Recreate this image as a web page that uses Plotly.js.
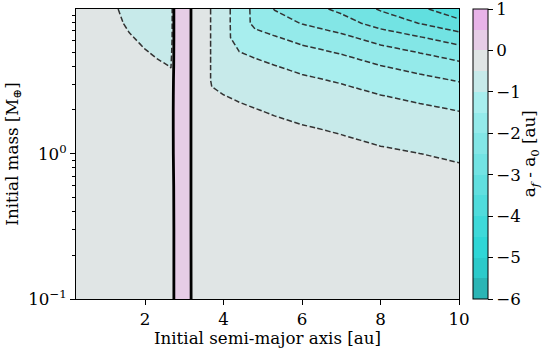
<!DOCTYPE html>
<html>
<head>
<meta charset="utf-8">
<script src="https://cdn.plot.ly/plotly-3.0.1.min.js"></script>
<style>html,body{margin:0;padding:0;background:#fff;}#chart{width:542px;height:348px;}</style>
</head>
<body>
<div id="chart"></div>
<script>
// Initial semi-major axis samples [au]
const semiMajorAxis = [0.24, 1.0, 1.3, 1.6, 2.0, 2.3, 2.6, 2.66, 2.715, 2.76, 2.95, 3.14, 3.2, 3.45, 3.7, 4.0, 4.4, 4.8, 5.3, 6.0, 7.0, 8.0, 9.0, 10.0];
// Initial mass samples [M_earth]
const initialMass = [0.1, 0.3, 0.6, 1.0, 1.5, 2.0, 2.5, 3.2, 4.0, 5.0, 6.3, 7.9, 9.9];
// a_f - a_0 [au], one list per semi-major-axis sample (low mass -> high mass)
const deltaA_byAxis = [
  [-0.002, -0.005, -0.008, -0.013, -0.019, -0.024, -0.029, -0.036, -0.043, -0.053, -0.064, -0.079, -0.089],
  [-0.008, -0.020, -0.036, -0.056, -0.080, -0.102, -0.124, -0.154, -0.187, -0.227, -0.278, -0.339, -0.384],
  [-0.010, -0.025, -0.046, -0.072, -0.102, -0.132, -0.160, -0.198, -0.240, -0.292, -0.357, -0.436, -0.493],
  [-0.013, -0.033, -0.060, -0.094, -0.134, -0.172, -0.208, -0.259, -0.314, -0.381, -0.466, -0.569, -0.644],
  [-0.016, -0.041, -0.076, -0.118, -0.168, -0.216, -0.262, -0.325, -0.394, -0.479, -0.585, -0.714, -0.808],
  [-0.018, -0.047, -0.086, -0.134, -0.191, -0.245, -0.297, -0.369, -0.448, -0.544, -0.664, -0.811, -0.880],
  [-0.020, -0.053, -0.096, -0.150, -0.213, -0.274, -0.333, -0.413, -0.497, -0.609, -0.744, -0.850, -0.880],
  [-0.021, -0.054, -0.098, -0.153, -0.218, -0.280, -0.339, -0.421, -0.511, -0.621, -0.720, -0.750, -0.750],
  [-0.30, -0.30, -0.20, -0.05, -0.03, -0.03, -0.05, -0.10, -0.20, -0.25, -0.30, -0.30, -0.30],
  [0.41, 0.41, 0.41, 0.41, 0.41, 0.41, 0.41, 0.41, 0.41, 0.41, 0.41, 0.41, 0.41],
  [0.22, 0.22, 0.22, 0.22, 0.22, 0.22, 0.22, 0.22, 0.22, 0.22, 0.22, 0.22, 0.22],
  [0.03, 0.03, 0.03, 0.03, 0.03, 0.03, 0.03, 0.03, 0.03, 0.03, 0.03, 0.03, 0.03],
  [-0.024, -0.03, -0.03, -0.03, -0.03, -0.03, -0.03, -0.03, -0.03, -0.03, -0.03, -0.03, -0.03],
  [-0.026, -0.067, -0.123, -0.192, -0.273, -0.28, -0.28, -0.28, -0.28, -0.28, -0.28, -0.28, -0.28],
  [-0.028, -0.072, -0.132, -0.206, -0.293, -0.377, -0.457, -0.53, -0.53, -0.53, -0.53, -0.53, -0.53],
  [-0.030, -0.078, -0.142, -0.222, -0.316, -0.406, -0.492, -0.611, -0.741, -0.83, -0.83, -0.83, -0.83],
  [-0.033, -0.086, -0.157, -0.245, -0.349, -0.448, -0.543, -0.674, -0.818, -0.994, -1.214, -1.23, -1.23],
  [-0.036, -0.094, -0.171, -0.267, -0.380, -0.488, -0.592, -0.735, -0.892, -1.083, -1.323, -1.615, -1.63],
  [-0.040, -0.104, -0.189, -0.295, -0.420, -0.539, -0.654, -0.812, -0.985, -1.197, -1.462, -1.785, -2.021],
  [-0.045, -0.117, -0.214, -0.334, -0.475, -0.611, -0.741, -0.919, -1.116, -1.355, -1.656, -2.021, -2.288],
  [-0.051, -0.133, -0.244, -0.380, -0.541, -0.695, -0.843, -1.046, -1.269, -1.542, -1.884, -2.299, -2.603],
  [-0.060, -0.156, -0.285, -0.445, -0.633, -0.813, -0.987, -1.225, -1.486, -1.805, -2.206, -2.692, -3.048],
  [-0.067, -0.175, -0.319, -0.498, -0.709, -0.910, -1.105, -1.370, -1.663, -2.020, -2.469, -3.013, -3.411],
  [-0.075, -0.195, -0.356, -0.556, -0.791, -1.016, -1.233, -1.530, -1.857, -2.256, -2.756, -3.364, -3.809]
];
// colour of each 0.5-wide band, from -6 up to +1
const bandColors = ['#2bb5b5', '#2ccaca', '#2fd6d6', '#3ed9d9', '#50dcdc', '#61dfdf', '#72e3e3',
                    '#83e6e6', '#94eaea', '#a8eeee', '#c7eaea', '#e0e5e5', '#e6cde6', '#e8b3e8'];
const colorbarTicks = [-6, -5, -4, -3, -2, -1, 0, 1];
const colorbarTickText = ['−6', '−5', '−4', '−3', '−2', '−1', '0', '1'];
const massTickVals = [0.1, 1];
const massTickText = ['10<sup>−1</sup>', '10<sup>0</sup>'];
const massMinorTicks = [0.2, 0.3, 0.4, 0.5, 0.6, 0.7, 0.8, 0.9, 2, 3, 4, 5, 6, 7, 8, 9];
const axisTicks = [2, 4, 6, 8, 10];

const zMin = -6, zMax = 1, step = 0.5;
const z = initialMass.map((_, r) => deltaA_byAxis.map(col => col[r]));
const nb = bandColors.length;
const colorscale = [];
bandColors.forEach((c, k) => { colorscale.push([k / nb, c]); colorscale.push([(k + 1) / nb, c]); });
// keep the end ticks just inside the bar so that none is culled
const cbTickPos = colorbarTicks.map(v => v === zMax ? v - 1e-4 : (v === zMin ? v + 1e-4 : v));

const font = 'DejaVu Serif';
const fs = 16.7;
const fill = {
  type: 'contour', x: semiMajorAxis, y: initialMass, z: z,
  zmin: zMin, zmax: zMax, zauto: false, autocontour: false,
  contours: {start: zMin, end: zMax, size: step, coloring: 'fill', showlines: false},
  line: {width: 0}, colorscale: colorscale, hoverinfo: 'skip',
  colorbar: {
    x: 1.0366, xanchor: 'left', xpad: 0, ypad: 0, y: 0.5, yanchor: 'middle',
    len: 1, thickness: 15, outlinewidth: 1, outlinecolor: '#000',
    tickmode: 'array', tickvals: cbTickPos, ticktext: colorbarTickText,
    ticks: 'outside', ticklen: 5, tickwidth: 1, tickcolor: '#000',
    ticklabeloverflow: 'allow',
    tickfont: {family: font, size: fs, color: '#000'}
  }
};
const dashed = {
  type: 'contour', x: semiMajorAxis, y: initialMass, z: z, showscale: false, autocontour: false,
  contours: {start: -3.5, end: -0.5, size: step, coloring: 'none'},
  line: {color: '#333', width: 1.5, dash: '5.5px,2.5px', smoothing: 0}, hoverinfo: 'skip'
};
const zeroLine = {
  type: 'contour', x: semiMajorAxis, y: initialMass, z: z, showscale: false, autocontour: false,
  contours: {start: 0, end: 0, size: 1, coloring: 'none'},
  line: {color: '#000', width: 2.8, smoothing: 0}, hoverinfo: 'skip'
};

const layout = {
  width: 542, height: 348,
  margin: {l: 76, r: 83, t: 9, b: 49, pad: 0},
  paper_bgcolor: '#fff', plot_bgcolor: '#fff',
  font: {family: font, size: fs, color: '#000'},
  showlegend: false,
  xaxis: {
    range: [0.24, 10], tickmode: 'array', tickvals: axisTicks,
    ticks: 'outside', ticklen: 5, tickwidth: 1, tickcolor: '#000',
    showline: true, linecolor: '#000', linewidth: 1, mirror: true,
    showgrid: false, zeroline: false,
    tickfont: {family: font, size: fs},
    title: {text: 'Initial semi-major axis [au]', standoff: 0, font: {family: font, size: fs}}
  },
  yaxis: {
    type: 'log', range: [-1, Math.log10(9.9)],
    tickmode: 'array', tickvals: massTickVals, ticktext: massTickText,
    ticks: 'outside', ticklen: 5, tickwidth: 1, tickcolor: '#000',
    minor: {tickmode: 'array', tickvals: massMinorTicks, ticks: 'outside', ticklen: 3, tickwidth: 1, tickcolor: '#000', showgrid: false},
    showline: true, linecolor: '#000', linewidth: 1, mirror: true,
    showgrid: false, zeroline: false,
    tickfont: {family: font, size: fs},
    title: {text: 'Initial mass [M<sub>⊕</sub>]', standoff: 5, font: {family: font, size: fs}}
  },
  annotations: [{
    text: 'a<sub><i>f</i></sub> - a<sub>0</sub> [au]', xref: 'paper', yref: 'paper',
    x: 1.186, y: 0.5, xanchor: 'center', yanchor: 'middle', textangle: -90,
    showarrow: false, font: {family: font, size: fs, color: '#000'}
  }]
};
Plotly.newPlot('chart', [fill, dashed, zeroLine], layout, {displayModeBar: false, staticPlot: true});
</script>
</body>
</html>
